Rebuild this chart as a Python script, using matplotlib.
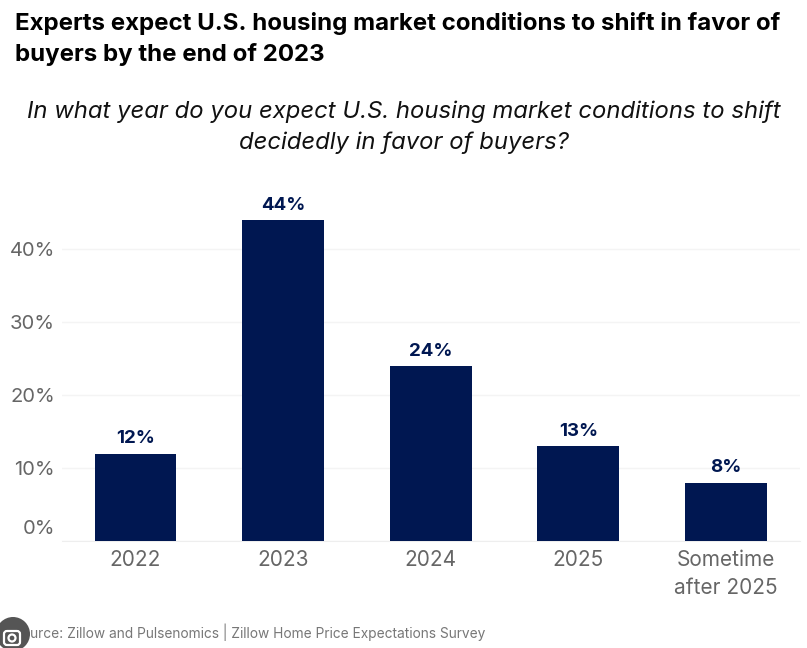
import matplotlib
matplotlib.use("Agg")
import matplotlib.pyplot as plt
from matplotlib.patches import Circle, FancyBboxPatch
from matplotlib.transforms import IdentityTransform, ScaledTranslation

categories = ["2022", "2023", "2024", "2025", "Sometime\nafter 2025"]
values = [12, 44, 24, 13, 8]
yticks = [0, 10, 20, 30, 40]
title = "Experts expect U.S. housing market conditions to shift in favor of\nbuyers by the end of 2023"
subtitle = "In what year do you expect U.S. housing market conditions to shift\ndecidedly in favor of buyers?"
source = "Source: Zillow and Pulsenomics | Zillow Home Price Expectations Survey"

plt.rcParams['font.family'] = ['Inter', 'Open Sans', 'DejaVu Sans']
W, H = 807, 648
fig = plt.figure(figsize=(W/100, H/100), dpi=100, facecolor='white')
ax = fig.add_axes([61.7/W, 1-541/H, 738/W, (541-175)/H])
NAVY = '#001751'
ax.bar(range(5), values, width=0.555, color=NAVY, zorder=3)
ax.set_xlim(-0.5, 4.5)
ax.set_ylim(0, (541-175)/7.29)
ax.set_yticks(yticks)
ax.set_yticklabels([f"{v}%" for v in yticks], fontsize=14.5, color='#666666')
ax.set_xticks(range(5))
ax.set_xticklabels(categories, fontsize=15, color='#666666', linespacing=1.5, va='top')
ax.tick_params(axis='x', length=0, pad=6.5)
ax.tick_params(axis='y', length=0, pad=5)
ax.grid(axis='y', color='#f4f4f4', lw=1, zorder=0)
for s in ['top', 'right', 'left']:
    ax.spines[s].set_visible(False)
ax.spines['bottom'].set_color('#eeeeee')
zero = ax.get_yticklabels()[0]
zero.set_transform(zero.get_transform() + ScaledTranslation(0, 14/100, fig.dpi_scale_trans))
for i, v in enumerate(values):
    ax.annotate(f"{v}%", (i, v), xytext=(0, 4.5), textcoords='offset points', ha='center', va='bottom',
                fontsize=13.5, fontweight='bold', color=NAVY)
fig.text(15/W, 1-39/H, title, fontsize=17.3, fontweight='bold', color='black', va='center', ha='left', linespacing=1.4)
fig.text(404/W, 1-127/H, subtitle, fontsize=17.2, style='italic', color='#111111', va='center', ha='center', linespacing=1.48, family=['Inter', 'DejaVu Sans'])
fig.text(13/W, 1-632/H, source, fontsize=9.9, color='#777777', va='center', ha='left')

# Screenshot overlay badge in the lower-left corner (pixel coordinates)
pix = IdentityTransform()
fig.add_artist(Circle((13, H-634), 17, transform=pix, facecolor='#555555', edgecolor='none', zorder=10))
fig.add_artist(FancyBboxPatch((4, H-645), 16, 14, boxstyle='round,pad=0,rounding_size=3', transform=pix,
                              facecolor='none', edgecolor='white', lw=1.6, zorder=11))
fig.add_artist(Circle((12, H-638), 3.5, transform=pix, facecolor='none', edgecolor='white', lw=1.6, zorder=11))
fig.savefig('out.png', dpi=100)
